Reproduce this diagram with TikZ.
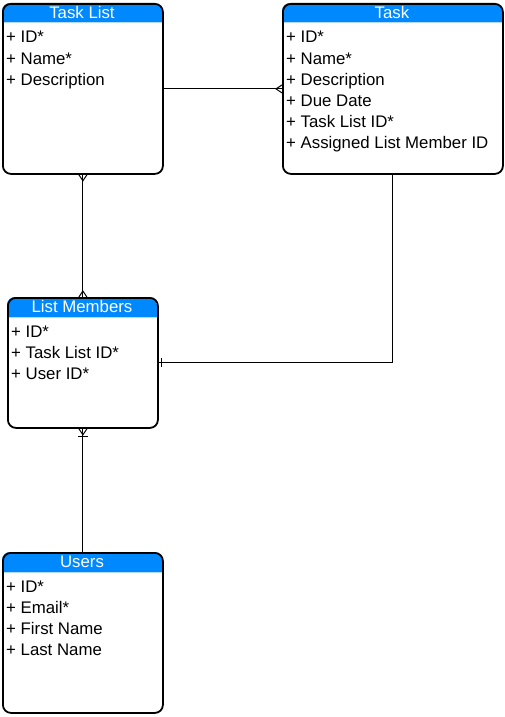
\documentclass[tikz,border=0pt]{standalone}
\usepackage{fontspec}
\setmainfont{Liberation Sans}
\usetikzlibrary{calc}
\definecolor{hdrblue}{RGB}{0,136,255}
\tikzset{
  entity/.style={draw=black, line width=1.8pt, rounded corners=8pt, anchor=north west, inner sep=0pt},
  hdrtext/.style={text=white, anchor=base, inner sep=0pt, font=\fontsize{16.8}{20}\selectfont},
  row/.style={text=black, anchor=base west, inner sep=0pt, font=\fontsize{16.8}{20}\selectfont},
  conn/.style={draw=black, line width=1pt},
}
\newcommand{\mkentity}[6]{% name, x1, y1, x2, y2, header
  \begin{scope}
    \clip[rounded corners=8pt] (#2,#3) rectangle (#4,#5);
    \fill[hdrblue] (#2,#3) rectangle (#4,#3+19.5);
    \fill[hdrblue!30] (#2,#3+19.5) rectangle (#4,#3+20.5);
  \end{scope}
  \node[entity, minimum width={(#4-#2)*1pt}, minimum height={(#5-#3)*1pt}] (#1) at (#2,#3) {};
  \node[hdrtext] (#1-h) at ({(#2+#4)/2},#3+15.5) {#6};
}
\begin{document}
\begin{tikzpicture}[x=1pt,y=-1pt]
\useasboundingbox (0,0) rectangle (504,717);
\fill[white] (0,0) rectangle (504,717);

% Task List
\mkentity{tl}{2}{3}{162}{173}{Task List}
\node[row] (tl-r1) at (6,43) {+ ID*};
\node[row] (tl-r2) at (6,64) {+ Name*};
\node[row] (tl-r3) at (6,85) {+ Description};

% Task
\mkentity{task}{282}{3}{502}{173}{Task}
\node[row] (task-r1) at (286,43) {+ ID*};
\node[row] (task-r2) at (286,64) {+ Name*};
\node[row] (task-r3) at (286,85) {+ Description};
\node[row] (task-r4) at (286,106) {+ Due Date};
\node[row] (task-r5) at (286,127) {+ Task List ID*};
\node[row] (task-r6) at (286,148) {+ Assigned List Member ID};

% List Members
\mkentity{lm}{7}{297}{157}{427}{List Members}
\node[row] (lm-r1) at (11,337) {+ ID*};
\node[row] (lm-r2) at (11,358) {+ Task List ID*};
\node[row] (lm-r3) at (11,379) {+ User ID*};

% Users
\mkentity{us}{2}{552}{162}{712}{Users}
\node[row] (us-r1) at (6,592) {+ ID*};
\node[row] (us-r2) at (6,613) {+ Email*};
\node[row] (us-r3) at (6,634) {+ First Name};
\node[row] (us-r4) at (6,655) {+ Last Name};

% Task List -- Task (many at Task)
\draw[conn] (tl.east) -- (task.west);
\draw[conn] ($(task.west)+(0,-4)$) -- ($(task.west)+(-6,0)$) -- ($(task.west)+(0,4)$);

% Task List -- List Members (many at both ends)
\draw[conn] (tl.south) -- (lm.north);
\draw[conn] ($(tl.south)+(-4,0)$) -- ($(tl.south)+(0,6)$) -- ($(tl.south)+(4,0)$);
\draw[conn] ($(lm.north)+(-4,0)$) -- ($(lm.north)+(0,-6)$) -- ($(lm.north)+(4,0)$);

% Task -- List Members (one at List Members)
\draw[conn] (task.south) |- (lm.east);
\draw[conn] ($(lm.east)+(3,-4.5)$) -- ($(lm.east)+(3,4.5)$);

% List Members -- Users (one or many at List Members)
\draw[conn] (lm.south) -- (us.north);
\draw[conn] ($(lm.south)+(-4,0)$) -- ($(lm.south)+(0,6)$) -- ($(lm.south)+(4,0)$);
\draw[conn] ($(lm.south)+(-5,8)$) -- ($(lm.south)+(5,8)$);
\end{tikzpicture}
\end{document}
